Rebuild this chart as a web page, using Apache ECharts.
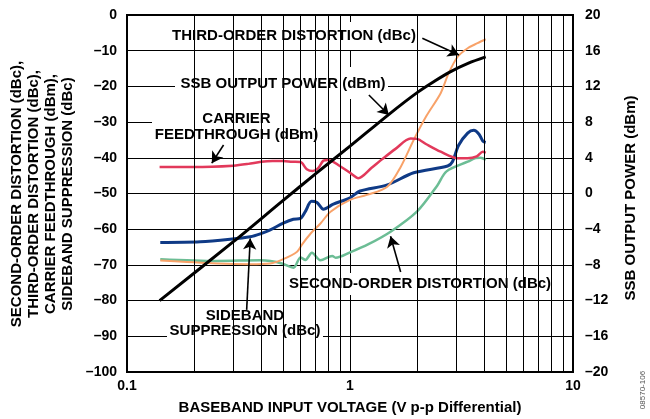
<!DOCTYPE html>
<html>
<head>
<meta charset="utf-8">
<script src="https://cdn.jsdelivr.net/npm/echarts@6/dist/echarts.min.js"></script>
<style>
  html, body { margin: 0; padding: 0; background: #fff; }
  #chart { width: 650px; height: 419px; }
</style>
</head>
<body>
<div id="chart"></div>
<script>
  // SSB output power (dBm, right axis)
  const ssbVin = [0.14, 0.3, 0.5, 0.7, 1.0, 1.5, 2.0, 2.4, 2.8, 3.4, 4.06]
  const ssbPower = [-12.0, -5.4, -0.8, 2.2, 5.3, 8.9, 11.3, 12.6, 13.6, 14.6, 15.3]

  // carrier feedthrough (dBm)
  const cfVin = [0.14, 0.2, 0.3, 0.35, 0.4, 0.45, 0.5, 0.55, 0.6, 0.64, 0.68, 0.72, 0.76, 0.8, 0.9, 1.0, 1.09, 1.25, 1.4, 1.6, 1.87, 2.0, 2.2, 2.55, 3.04, 3.37, 3.7, 3.94, 4.06]
  const cfLevel = [-42.6, -42.6, -42.2, -41.7, -41.1, -40.9, -40.9, -41.1, -41.2, -43.2, -43.7, -42.9, -40.8, -40.6, -42.3, -44.2, -45.7, -42.8, -40.3, -37.5, -34.6, -34.7, -36.2, -38.3, -40.1, -40.1, -39.6, -38.3, -38.6]

  // sideband suppression (dBc)
  const sbVin = [0.141, 0.213, 0.29, 0.357, 0.396, 0.439, 0.502, 0.557, 0.599, 0.631, 0.672, 0.711, 0.76, 0.842, 1.0, 1.11, 1.47, 1.93, 2.74, 2.88, 3.07, 3.37, 3.59, 3.79, 3.94, 4.06]
  const sbLevel = [-63.7, -63.5, -62.8, -62.1, -61.3, -60.2, -58.3, -57.2, -57.0, -55.0, -52.2, -52.5, -54.4, -53.0, -51.2, -49.3, -47.6, -44.2, -42.3, -41.1, -36.5, -33.1, -32.3, -33.4, -35.3, -35.7]

  // third-order distortion (dBc)
  const tdVin = [0.141, 0.253, 0.357, 0.439, 0.502, 0.579, 0.609, 0.666, 0.737, 0.818, 1.0, 1.19, 1.47, 1.69, 1.93, 2.2, 2.55, 2.77, 3.04, 3.37, 3.73, 4.06]
  const tdLevel = [-68.8, -69.6, -69.8, -69.6, -68.4, -66.3, -64.3, -61.2, -58.4, -55.1, -51.8, -50.4, -48.1, -42.5, -35.0, -28.3, -21.9, -16.3, -11.7, -9.3, -7.9, -6.8]

  // second-order distortion (dBc)
  const sdVin = [0.141, 0.253, 0.396, 0.439, 0.495, 0.558, 0.6, 0.631, 0.675, 0.737, 0.833, 0.862, 1.0, 1.21, 1.52, 2.0, 2.46, 2.71, 3.37, 3.66, 3.85, 4.06]
  const sdLevel = [-68.4, -68.9, -68.7, -68.9, -69.6, -70.8, -67.9, -68.6, -66.6, -68.7, -67.5, -68.0, -66.5, -64.2, -60.7, -55.0, -47.8, -43.8, -41.1, -40.1, -40.0, -40.6]

  const xMinorLines = [0.2, 0.3, 0.4, 0.5, 0.6, 0.7, 0.8, 0.9, 2, 3, 4, 5, 6, 7, 8, 9]

  const FONT = '"Liberation Sans", Arial, Helvetica, sans-serif'
  const zip = (xs, ys) => xs.map((x, i) => [x, ys[i]])
  const dash = v => String(v).replace('-', '–')

  const arrow = (from, to) => [{coord: from}, {coord: to}]

  function curve(name, xs, ys, color, width, yIdx) {
    return {
      name: name,
      type: 'line',
      yAxisIndex: yIdx || 0,
      data: zip(xs, ys),
      smooth: 0.3,
      showSymbol: false,
      z: 3,
      lineStyle: {color: color, width: width},
      itemStyle: {color: color}
    }
  }

  const boldText = (x, y, text, opts) => {
    opts = opts || {}
    return {
      type: 'text',
      x: x,
      y: y,
      z: 1,
      rotation: opts.rotation || 0,
      style: {
        text: text,
        fill: '#000',
        font: 'bold ' + (opts.size || 15) + 'px ' + FONT,
        textAlign: 'center',
        textVerticalAlign: 'middle',
        lineHeight: opts.lineHeight || 15.7
      }
    }
  }

  const whiteBox = (x, y, w, h) => ({
    type: 'rect',
    z: 1,
    shape: {x: x, y: y, width: w, height: h},
    style: {fill: '#fff'}
  })

  const chart = echarts.init(document.getElementById('chart'))
  chart.setOption({
    animation: false,
    grid: {
      left: 127,
      right: 77,
      top: 15,
      bottom: 47,
      show: true,
      borderColor: '#000',
      borderWidth: 2,
      backgroundColor: '#fff'
    },
    xAxis: {
      type: 'log',
      logBase: 10,
      min: 0.1,
      max: 10,
      axisLine: {show: false},
      axisTick: {show: false},
      axisLabel: {
        color: '#000',
        fontFamily: FONT,
        fontWeight: 'bold',
        fontSize: 14,
        margin: 7,
        formatter: v => String(+Number(v).toPrecision(3))
      },
      splitLine: {show: true, lineStyle: {color: '#000', width: 1}}
    },
    yAxis: [
      {
        type: 'value',
        min: -100,
        max: 0,
        interval: 10,
        axisLine: {show: false},
        axisTick: {show: false},
        axisLabel: {
          color: '#000',
          fontFamily: FONT,
          fontWeight: 'bold',
          fontSize: 14,
          margin: 10,
          formatter: dash
        },
        splitLine: {show: true, lineStyle: {color: '#000', width: 1}}
      },
      {
        type: 'value',
        min: -20,
        max: 20,
        interval: 4,
        position: 'right',
        axisLine: {show: false},
        axisTick: {show: false},
        axisLabel: {
          color: '#000',
          fontFamily: FONT,
          fontWeight: 'bold',
          fontSize: 14,
          margin: 12,
          formatter: dash
        },
        splitLine: {show: false}
      }
    ],
    series: [
      {
        name: 'minor grid',
        type: 'line',
        data: [],
        z: 0,
        silent: true,
        markLine: {
          silent: true,
          symbol: 'none',
          label: {show: false},
          lineStyle: {color: '#000', width: 1, type: 'solid'},
          emphasis: {disabled: true},
          data: xMinorLines.map(v => ({xAxis: v}))
        }
      },
      curve('SIDEBAND SUPPRESSION', sbVin, sbLevel, '#0f3a86', 3),
      curve('SECOND-ORDER DISTORTION', sdVin, sdLevel, '#6cbd95', 2.5),
      curve('THIRD-ORDER DISTORTION', tdVin, tdLevel, '#f8a269', 2),
      curve('CARRIER FEEDTHROUGH', cfVin, cfLevel, '#e2395b', 2.5),
      curve('SSB OUTPUT POWER', ssbVin, ssbPower, '#000', 3, 1),
      {
        name: 'arrows',
        type: 'line',
        data: [],
        z: 4,
        silent: true,
        markLine: {
          silent: true,
          symbol: ['none', 'arrow'],
          symbolSize: [10, 11],
          label: {show: false},
          lineStyle: {color: '#000', width: 1.6, type: 'solid'},
          emphasis: {disabled: true},
          data: [
            arrow([2.11, -6.5], [3.08, -11.2]),
            arrow([1.215, -22.4], [1.494, -28.0]),
            arrow([0.271, -36.4], [0.24, -41.5]),
            arrow([0.344, -82.6], [0.357, -62.6]),
            arrow([1.687, -72.0], [1.52, -62.0])
          ]
        }
      }
    ],
    graphic: [
      whiteBox(129, 22, 286, 28),
      whiteBox(175, 67, 213, 32),
      whiteBox(152, 108, 168, 35),
      whiteBox(167, 306, 156, 36),
      whiteBox(285, 273, 270, 22),
      boldText(294, 36, 'THIRD-ORDER DISTORTION (dBc)'),
      boldText(283, 83.5, 'SSB OUTPUT POWER (dBm)'),
      boldText(236.5, 127.2, 'CARRIER\nFEEDTHROUGH (dBm)'),
      boldText(245, 323.5, 'SIDEBAND\nSUPPRESSION (dBc)'),
      boldText(420, 284, 'SECOND-ORDER DISTORTION (dBc)'),
      boldText(350, 408, 'BASEBAND INPUT VOLTAGE (V p-p Differential)'),
      boldText(42.5, 194,
        'SECOND-ORDER DISTORTION (dBc),\nTHIRD-ORDER DISTORTION (dBc),\nCARRIER FEEDTHROUGH (dBm),\nSIDEBAND SUPPRESSION (dBc)',
        {rotation: Math.PI / 2, lineHeight: 17}),
      boldText(631, 198, 'SSB OUTPUT POWER (dBm)', {rotation: Math.PI / 2}),
      {
        type: 'text',
        x: 643,
        y: 390,
        rotation: Math.PI / 2,
        style: {
          text: '08570-106',
          fill: '#555',
          font: '8px ' + FONT,
          textAlign: 'center',
          textVerticalAlign: 'middle'
        }
      }
    ]
  })
</script>
</body>
</html>
